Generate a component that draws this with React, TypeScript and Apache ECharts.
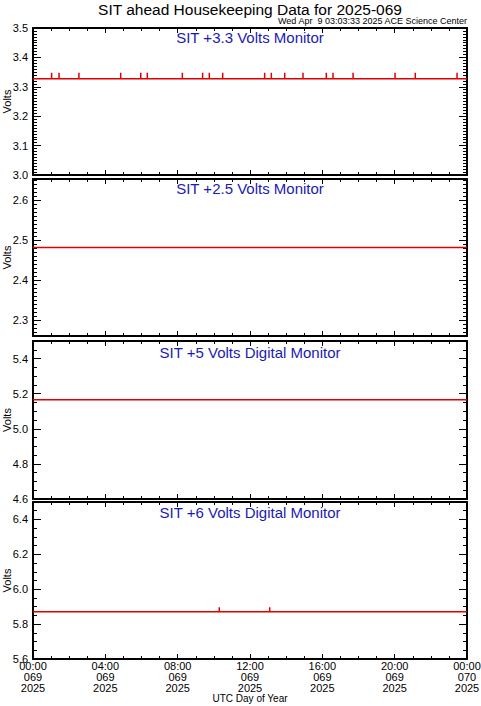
import React, { useEffect, useRef } from 'react';
import * as echarts from 'echarts';

const W = 481;
const H = 706;

const titleText = 'SIT ahead Housekeeping Data for 2025-069';
const stampText = 'Wed Apr  9 03:03:33 2025 ACE Science Center';
const xAxisTitle = 'UTC Day of Year';
const yAxisTitle = 'Volts';

const panelTitles = [
  'SIT +3.3 Volts Monitor',
  'SIT +2.5 Volts Monitor',
  'SIT +5 Volts Digital Monitor',
  'SIT +6 Volts Digital Monitor',
];
const panelMin = [3.0, 2.26, 4.6, 5.6];
const panelMax = [3.5, 2.6525, 5.5, 6.5];
const panelMajorTicks = [
  [3.0, 3.1, 3.2, 3.3, 3.4, 3.5],
  [2.3, 2.4, 2.5, 2.6],
  [4.6, 4.8, 5.0, 5.2, 5.4],
  [5.6, 5.8, 6.0, 6.2, 6.4],
];
const panelMinorStep = [0.01, 0.01, 0.05, 0.05];

// x axis (hours of day 069)
const xTickHours = [0, 4, 8, 12, 16, 20, 24];
const xTickTimes = ['00:00', '04:00', '08:00', '12:00', '16:00', '20:00', '00:00'];
const xTickDays = ['069', '069', '069', '069', '069', '069', '070'];
const xTickYears = ['2025', '2025', '2025', '2025', '2025', '2025', '2025'];

// series values
const baseVolts33 = 3.327;
const spikeHours33 = [1.03, 1.44, 2.54, 4.85, 5.96, 6.32, 8.26, 9.38, 9.75, 10.49, 12.81, 13.18, 13.92, 14.93, 16.22, 16.59, 17.70, 20.02, 21.14, 23.45];
const spikeVolts33 = 3.348;
const baseVolts25 = 2.481;
const baseVolts5 = 5.165;
const baseVolts6 = 5.871;
const spikeHours6 = [10.30, 13.09];
const spikeVolts6 = 5.897;

const panelBase = [baseVolts33, baseVolts25, baseVolts5, baseVolts6];
const panelSpikeHours = [spikeHours33, [], [], spikeHours6];
const panelSpikeVolts = [spikeVolts33, baseVolts25, baseVolts5, spikeVolts6];

// layout
const gridLeft = 33;
const gridRight = 14;
const panelTop = [28, 179, 341, 502];
const panelHeight = [147, 157, 158, 157];
const panelTitleY = [37, 188, 352, 512];

const FONT = 'Liberation Sans';
const RED = '#e00000';
const BLUE = '#1a1ab4';

function buildSeriesData(i: number) {
  const base = panelBase[i];
  const pts: number[][] = [[0, base]];
  for (const t of panelSpikeHours[i]) {
    pts.push([t, base], [t, panelSpikeVolts[i]], [t, base]);
  }
  pts.push([24, base]);
  return pts;
}

function minorValues(i: number) {
  const out: number[] = [];
  const step = panelMinorStep[i];
  const start = Math.ceil(panelMin[i] / step - 1e-6);
  const end = Math.floor(panelMax[i] / step + 1e-6);
  for (let k = start; k <= end; k++) out.push(+(k * step).toFixed(4));
  return out;
}

export default function App() {
  const ref = useRef<HTMLDivElement>(null);
  useEffect(() => {
    if (!ref.current) return;
    const chart = echarts.init(ref.current, undefined, { renderer: 'svg' });
    const grids: any[] = [];
    const xAxes: any[] = [];
    const yAxes: any[] = [];
    const series: any[] = [];
    const graphics: any[] = [];
    const plotCenter = gridLeft + (W - gridLeft - gridRight) / 2;

    for (let i = 0; i < 4; i++) {
      grids.push({
        left: gridLeft, right: gridRight, top: panelTop[i], height: panelHeight[i],
        containLabel: false, outerBoundsMode: 'none',
      });
      const isLast = i === 3;
      const xBase = {
        type: 'value', gridIndex: i, min: 0, max: 24, interval: 4,
        axisLine: { show: true, onZero: false, lineStyle: { color: '#000', width: 2 } },
        axisTick: { show: true, inside: true, length: 5, lineStyle: { color: '#000', width: 1 } },
        minorTick: { show: true, splitNumber: 4, length: 3, lineStyle: { color: '#000', width: 1 } },
        splitLine: { show: false },
        minorSplitLine: { show: false },
      };
      xAxes.push({
        ...xBase, position: 'bottom',
        axisLabel: {
          show: isLast, margin: 1, color: '#000', fontFamily: FONT, fontSize: 11, lineHeight: 11,
          formatter: (v: number) => {
            const k = xTickHours.indexOf(v);
            return k < 0 ? '' : `${xTickTimes[k]}\n${xTickDays[k]}\n${xTickYears[k]}`;
          },
        },
      });
      xAxes.push({ ...xBase, position: 'top', axisLabel: { show: false } });

      const yCommon = {
        type: 'value', gridIndex: i, min: panelMin[i], max: panelMax[i],
        splitLine: { show: false },
      };
      const major = panelMajorTicks[i];
      const minors = minorValues(i);
      for (const pos of ['left', 'right']) {
        yAxes.push({
          ...yCommon, position: pos,
          axisLine: { show: true, onZero: false, lineStyle: { color: '#000', width: 2 } },
          axisTick: { show: true, inside: true, length: 8, customValues: major, lineStyle: { color: '#000', width: 1 } },
          axisLabel: {
            show: pos === 'left', customValues: major, margin: 5, color: '#000', fontFamily: FONT, fontSize: 11,
            formatter: (v: number) => v.toFixed(1),
          },
        });
        yAxes.push({
          ...yCommon, position: pos,
          axisLine: { show: false, onZero: false },
          axisTick: { show: true, inside: true, length: 4, customValues: minors, lineStyle: { color: '#000', width: 1 } },
          axisLabel: { show: false },
        });
      }

      series.push({
        type: 'line', xAxisIndex: 2 * i, yAxisIndex: 4 * i,
        data: buildSeriesData(i), showSymbol: false, symbol: 'none',
        lineStyle: { color: RED, width: 1.5 }, silent: true,
      });

      graphics.push({
        type: 'text', x: plotCenter, y: panelTitleY[i],
        style: { text: panelTitles[i], fill: BLUE, font: `15px "${FONT}"`, textAlign: 'center', textVerticalAlign: 'middle' },
      });
      graphics.push({
        type: 'text', x: 7, y: panelTop[i] + panelHeight[i] / 2, rotation: Math.PI / 2,
        style: { text: yAxisTitle, fill: '#000', font: `11px "${FONT}"`, textAlign: 'center', textVerticalAlign: 'middle' },
      });
    }

    graphics.push({
      type: 'text', x: plotCenter, y: 9,
      style: { text: titleText, fill: '#000', font: `15.5px "${FONT}"`, textAlign: 'center', textVerticalAlign: 'middle' },
    });
    graphics.push({
      type: 'text', x: W - gridRight, y: 21,
      style: { text: stampText, fill: '#000', font: `9px "${FONT}"`, textAlign: 'right', textVerticalAlign: 'middle' },
    });
    graphics.push({
      type: 'text', x: plotCenter, y: 698,
      style: { text: xAxisTitle, fill: '#000', font: `10px "${FONT}"`, textAlign: 'center', textVerticalAlign: 'middle' },
    });

    chart.setOption({
      animation: false,
      backgroundColor: '#fff',
      grid: grids,
      xAxis: xAxes,
      yAxis: yAxes,
      series,
      graphic: graphics,
    });
    return () => chart.dispose();
  }, []);
  return <div ref={ref} style={{ position: 'absolute', left: 0, top: 0, width: W, height: H }} />;
}
